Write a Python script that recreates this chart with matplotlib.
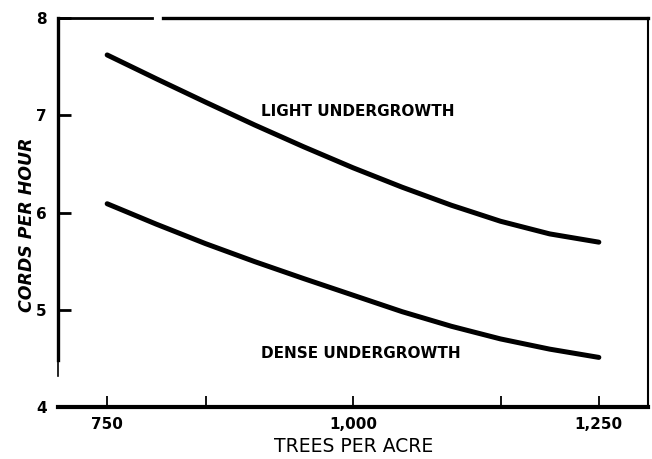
import numpy as np
import matplotlib.pyplot as plt

# values
trees = [750, 800, 850, 900, 950, 1000, 1050, 1100, 1150, 1200, 1250]
light = [7.62, 7.375, 7.135, 6.90, 6.675, 6.46, 6.26, 6.075, 5.91, 5.78, 5.695]
dense = [6.09, 5.88, 5.68, 5.495, 5.32, 5.15, 4.98, 4.83, 4.70, 4.595, 4.51]

x_ticks = [750, 1000, 1250]
x_tick_labels = ['750', '1,000', '1,250']
x_minor = [850, 1150]
y_ticks = [4, 5, 6, 7, 8]

fig = plt.figure(figsize=(6.52, 4.59), dpi=100)
ax = fig.add_axes([58 / 652, 52 / 459, 590 / 652, 389 / 459])
ax.set_xlim(700, 1300)
ax.set_ylim(4, 8)

ax.plot(trees, light, color='black', lw=3.6, solid_capstyle='round', solid_joinstyle='round')
ax.plot(trees, dense, color='black', lw=3.6, solid_capstyle='round', solid_joinstyle='round')

# frame, drawn a bit rough like the scanned original
ax.spines['top'].set_visible(False)
ax.spines['left'].set_bounds(4.48, 8)
ax.spines['left'].set_linewidth(2.4)
ax.spines['bottom'].set_linewidth(3)
ax.spines['right'].set_linewidth(1.5)
ax.plot([700, 700], [4.32, 4.48], color='black', lw=1.2, clip_on=False)
ax.plot([0, 0.159], [1, 1], color='black', lw=2.0, transform=ax.transAxes, clip_on=False)
ax.plot([0.178, 1], [1, 1], color='black', lw=2.4, transform=ax.transAxes, clip_on=False)

ax.set_xticks(x_ticks)
ax.set_xticklabels(x_tick_labels)
ax.set_xticks(x_minor, minor=True)
ax.set_yticks(y_ticks)
ax.tick_params(axis='x', which='both', direction='in', length=8, width=1.3, pad=7, labelsize=11)
ax.tick_params(axis='y', direction='in', length=9, width=2, pad=8, labelsize=11)
plt.setp(ax.get_xticklabels(), fontweight='bold')
plt.setp(ax.get_yticklabels(), fontweight='bold')

ax.text(1005, 7.04, 'LIGHT UNDERGROWTH', ha='center', va='center', fontsize=11, fontweight='bold')
ax.text(1008, 4.55, 'DENSE UNDERGROWTH', ha='center', va='center', fontsize=11, fontweight='bold')

fig.text(27 / 652, 1 - 225 / 459, 'CORDS PER HOUR', rotation=90, ha='center', va='center',
         fontsize=12.5, fontweight='bold', style='italic')
fig.text(354 / 652, 1 - 447 / 459, 'TREES PER ACRE', ha='center', va='center', fontsize=13.5)

fig.savefig('out.png', dpi=100)
